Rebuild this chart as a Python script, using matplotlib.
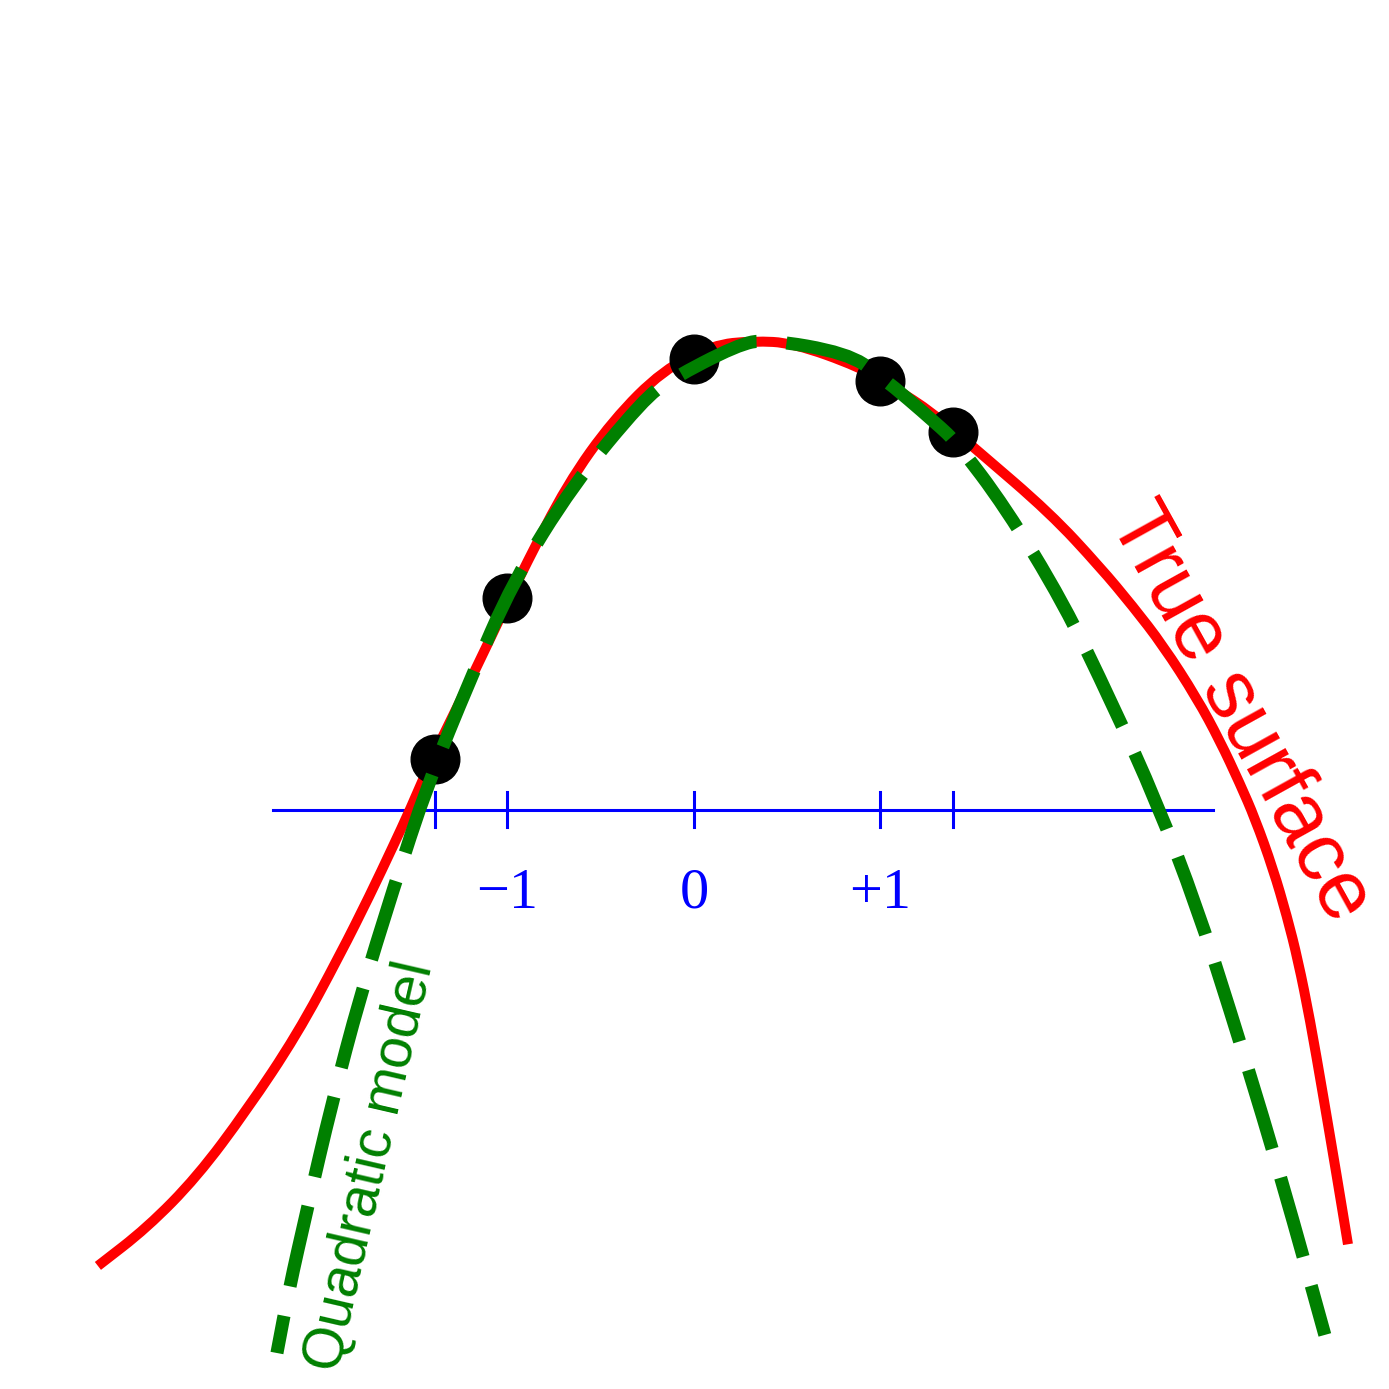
import matplotlib
matplotlib.use("Agg")
import matplotlib.pyplot as plt
from matplotlib.path import Path
from matplotlib.patches import PathPatch
import numpy as np

# design points (coded units) and the response at each
design_x = [-1.39, -1.0, 0.0, 1.0, 1.39]
design_y = [0.273, 1.137, 2.418, 2.300, 2.029]

# true surface
true_x = [-3.196, -2.933, -2.665, -2.397, -2.129, -1.898, -1.737, -1.614,
          -1.523, -1.394, -1.217, -0.997, -0.906, -0.681, -0.434, -0.166,
          0.102, 0.316, 0.531, 0.890, 1.067, 1.282, 1.517, 1.909, 2.177,
          2.354, 2.515, 2.697, 2.820, 2.928, 3.008, 3.105, 3.180, 3.239,
          3.303, 3.373, 3.448, 3.507]
true_y = [-2.445, -2.241, -1.968, -1.609, -1.206, -0.777, -0.456, -0.196,
          0.000, 0.300, 0.657, 1.119, 1.306, 1.745, 2.091, 2.359,
          2.493, 2.515, 2.504, 2.375, 2.268, 2.129, 1.930, 1.592, 1.303,
          1.091, 0.882, 0.599, 0.371, 0.140, -0.045, -0.315, -0.571, -0.806,
          -1.122, -1.526, -1.969, -2.329]

# fitted quadratic model
quad_x = [-2.236, -2.172, -2.075, -1.941, -1.791, -1.614, -1.426, -1.201,
          -0.971, -0.649, -0.273, -0.129, 0.231, 0.391, 0.820, 0.997,
          1.303, 1.410, 1.668, 1.979, 2.241, 2.483, 2.697, 2.874, 3.051,
          3.212, 3.383]
quad_y = [-2.912, -2.574, -2.145, -1.571, -1.003, -0.429, 0.145, 0.697,
          1.223, 1.743, 2.198, 2.306, 2.493, 2.525, 2.450, 2.332,
          2.070, 1.968, 1.625, 1.115, 0.574, 0.038, -0.520, -1.072, -1.646,
          -2.198, -2.815]

tick_pos = [-1.0, 0.0, 1.0]
tick_labels = ["\u22121", "0", "+1"]
axis_range = [-2.257, 2.783]


def smooth_path(xs, ys):
    # quadratic bezier through segment midpoints, read points as controls
    pts = np.column_stack([xs, ys])
    verts = [pts[0], (pts[0] + pts[1]) / 2]
    codes = [Path.MOVETO, Path.LINETO]
    for i in range(1, len(pts) - 1):
        verts += [pts[i], (pts[i] + pts[i + 1]) / 2]
        codes += [Path.CURVE3, Path.CURVE3]
    verts.append(pts[-1])
    codes.append(Path.LINETO)
    return Path(verts, codes)


fig = plt.figure(figsize=(13.89, 13.89), dpi=100)
ax = fig.add_axes([0, 0, 1, 1])
ax.set_xlim(-3.721, 3.727)
ax.set_ylim(-3.105, 4.343)
ax.axis("off")

# coded axis with ticks at the design points
ax.plot(axis_range, [0, 0], color="blue", lw=2.2, zorder=1)
for xp in design_x:
    ax.plot([xp, xp], [-0.094, 0.094], color="blue", lw=2.2, zorder=1)
for xp, lab in zip(tick_pos, tick_labels):
    ax.text(xp, -0.525, lab, color="blue", fontsize=42, ha="center",
            va="baseline", family="Liberation Serif")

red = PathPatch(smooth_path(true_x, true_y), facecolor="none",
                edgecolor="red", lw=7.2, zorder=2, capstyle="butt")
ax.add_patch(red)
ax.plot(design_x, design_y, "o", color="black", ms=35, zorder=3)
green = PathPatch(smooth_path(quad_x, quad_y), facecolor="none",
                  edgecolor="green", lw=9.4, zorder=4, capstyle="butt",
                  linestyle=(3.4, (6.3, 2.3)))
ax.add_patch(green)

ax.text(2.826, 0.466, "True surface", color="red", fontsize=60,
        rotation=-61, rotation_mode="anchor", ha="center", va="baseline",
        family="Liberation Sans")
ax.text(-1.657, -1.930, "Quadratic model", color="green", fontsize=41,
        rotation=77, rotation_mode="anchor", ha="center", va="baseline",
        family="Liberation Sans")

fig.savefig("out.png", dpi=100)
plt.close()
